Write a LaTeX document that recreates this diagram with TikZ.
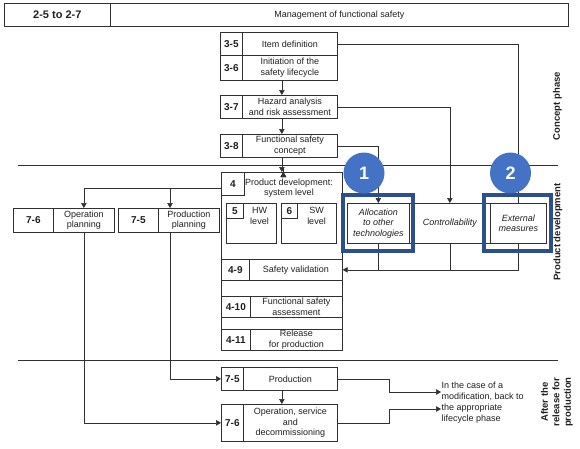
\documentclass[tikz,border=0pt]{standalone}
\usepackage{fontspec}
\setmainfont{Liberation Sans}
\usetikzlibrary{arrows.meta,calc}
\definecolor{ln}{HTML}{303030}
\definecolor{frameblue}{HTML}{2E4F8E}
\definecolor{circblue}{HTML}{4472C4}
\begin{document}
\begin{tikzpicture}[x=1pt,y=-1pt,
  every node/.style={font=\fontsize{9}{10.5}\selectfont, inner sep=0.5pt, text=black!88},
  cell/.style={draw=ln, line width=0.7pt, rectangle, anchor=north west, align=center},
  num/.style={cell, font=\fontsize{10}{12}\selectfont\bfseries},
  plain/.style={align=center},
  conn/.style={draw=ln, line width=0.6pt},
  arr/.style={conn, -{Triangle[length=5pt,width=5.5pt]}},
  sep/.style={draw=ln, line width=0.8pt},
  phase/.style={rotate=90, align=center, font=\fontsize{9.5}{11.5}\selectfont\bfseries},
  bframe/.style={draw=frameblue, line width=4pt, inner sep=0pt},
  badge/.style={circle, fill=circblue, minimum size=41pt, text=white, font=\fontsize{18}{18}\selectfont\bfseries}
]
\useasboundingbox (0,0) rectangle (580,448);
% header
\node[cell, minimum width=106pt, minimum height=23pt, font=\fontsize{11}{12}\selectfont\bfseries] (hn) at (4,3) {2-5 to 2-7};
\node[cell, minimum width=458pt, minimum height=23pt] (ht) at (110,3) {Management of functional safety};
% concept phase
\node[num, minimum width=22pt, minimum height=23pt] (n35) at (220,32) {3-5};
\node[cell, minimum width=95pt, minimum height=23pt] (t35) at (242,32) {Item definition};
\node[num, minimum width=22pt, minimum height=25pt] (n36) at (220,55) {3-6};
\node[cell, minimum width=95pt, minimum height=25pt] (t36) at (242,55) {Initiation of the\\safety lifecycle};
\node[num, minimum width=22pt, minimum height=23pt] (n37) at (220,95) {3-7};
\node[cell, minimum width=95pt, minimum height=23pt] (t37) at (242,95) {Hazard analysis\\and risk assessment};
\node[num, minimum width=22pt, minimum height=23pt] (n38) at (220,134) {3-8};
\node[cell, minimum width=95pt, minimum height=23pt] (t38) at (242,134) {Functional safety\\concept};
% product development stage
\node[cell, minimum width=121pt, minimum height=178pt] (stage4) at (221,172) {};
\node[num, minimum width=23pt, minimum height=23pt] (n4) at (221,172) {4};
\node[plain] (t4) at (289,188) {Product development:\\system level};
\node[cell, minimum width=50pt, minimum height=40pt] (b5) at (226,203) {};
\node[num, minimum width=17pt, minimum height=15pt] (n5) at (226,203) {5};
\node[plain] (t5) at (259.5,216) {HW\\level};
\node[cell, minimum width=55pt, minimum height=40pt] (b6) at (281,203) {};
\node[num, minimum width=16pt, minimum height=15pt] (n6) at (281,203) {6};
\node[plain] (t6) at (316.5,216) {SW\\level};
\node[num, minimum width=28pt, minimum height=21pt] (n49) at (221,259) {4-9};
\node[cell, minimum width=93pt, minimum height=21pt] (t49) at (249,259) {Safety validation};
\node[num, minimum width=29pt, minimum height=21pt] (n410) at (221,296) {4-10};
\node[cell, minimum width=92pt, minimum height=21pt] (t410) at (250,296) {Functional safety\\assessment};
\node[num, minimum width=29pt, minimum height=21pt] (n411) at (221,329) {4-11};
\node[cell, minimum width=92pt, minimum height=21pt] (t411) at (250,329) {Release\\for production};
% planning
\node[num, minimum width=40pt, minimum height=24pt] (n76p) at (13,208) {7-6};
\node[cell, minimum width=61pt, minimum height=24pt] (t76p) at (53,208) {Operation\\planning};
\node[num, minimum width=40pt, minimum height=24pt] (n75p) at (118,208) {7-5};
\node[cell, minimum width=61pt, minimum height=24pt] (t75p) at (158,208) {Production\\planning};
% after release
\node[num, minimum width=22pt, minimum height=23pt] (n75) at (221,367) {7-5};
\node[cell, minimum width=94pt, minimum height=23pt] (t75) at (243,367) {Production};
\node[num, minimum width=22pt, minimum height=37pt] (n76) at (221,404) {7-6};
\node[cell, minimum width=94pt, minimum height=37pt] (t76) at (243,404) {Operation, service\\and\\decommissioning};
\node[align=left, anchor=west, font=\fontsize{9}{10.8}\selectfont] (mod) at (441,402.5) {In the case of a\\modification, back to\\the appropriate\\lifecycle phase};
% measures
\node[cell, minimum width=81pt, minimum height=40pt, font=\fontsize{9}{10.5}\selectfont\itshape] (ctrl) at (409,203) {Controllability};
\node[cell, minimum width=62pt, minimum height=40pt, font=\fontsize{9}{10.5}\selectfont\itshape] (alloc) at (347,203) {Allocation\\to other\\technologies};
\node[cell, minimum width=56pt, minimum height=40pt, font=\fontsize{9}{10.5}\selectfont\itshape] (ext) at (490,203) {External\\measures};
% phase labels
\node[phase] (pc) at (557.5,106) {Concept phase};
\node[phase] (pd) at (558,232) {Product development};
\node[phase] (pa) at (557,402) {After the\\release for\\production};
% separators
\draw[sep] (18,165) -- (558,165);
\draw[sep] (18,360) -- (558,360);
% vertical flow
\draw[arr] (stage4.north |- t36.south) -- (stage4.north |- t37.north);
\draw[arr] (stage4.north |- t37.south) -- (stage4.north |- t38.north);
\draw[arr] (stage4.north |- t38.south) -- (stage4.north);
\draw[arr] ($(stage4.north)+(1.5,0)$ |- t49.south) -- ($(stage4.north)+(1.5,0)$ |- t410.north);
\draw[arr] ($(stage4.north)+(1.5,0)$ |- t410.south) -- ($(stage4.north)+(1.5,0)$ |- t411.north);
\draw[arr] ($(stage4.north)+(1.5,0)$ |- t411.south) -- ($(stage4.north)+(1.5,0)$ |- t75.north);
\draw[arr] (stage4.north |- t75.south) -- (stage4.north |- t76.north);
% planning links
\coordinate (br) at ($(stage4.north west)+(0,16)$);
\coordinate (pp) at ($(t75p.north west)+(12,0)$);
\draw[conn] (br) -- (br -| pp);
\draw[arr] (br -| pp) -| (t76p.north);
\draw[arr] (br -| pp) -- (pp);
\draw[arr] (t76p.south) |- (n76.west);
\draw[arr] (pp |- t75p.south) |- (n75.west);
% modification links
\coordinate (k1) at (389,392);
\coordinate (k2) at (389,409);
\draw[arr] (t75.east) -| (k1) -- (k1 -| mod.west);
\draw[arr] (t76.east) -| (k2) -- (k2 -| mod.west);
% concept to measures
\draw[conn] (t35.east) -| (ext.north);
\draw[arr] (t37.east) -| (ctrl.north);
\draw[arr] (t38.east) -| (alloc.north);
\draw[conn] (alloc.south) -- (alloc.south |- t49.east);
\draw[conn] (ctrl.south) -- (ctrl.south |- t49.east);
\draw[arr] (ext.south) |- (t49.east);
% highlight frames and badges
\node[bframe, minimum width=70pt, minimum height=56pt] (f1) at (alloc.center) {};
\node[bframe, minimum width=67pt, minimum height=56pt] (f2) at ($(ext.center)+(-0.5,0)$) {};
\node[badge] (c1) at (364,173) {1};
\node[badge] (c2) at (510.5,173) {2};
\end{tikzpicture}
\end{document}
